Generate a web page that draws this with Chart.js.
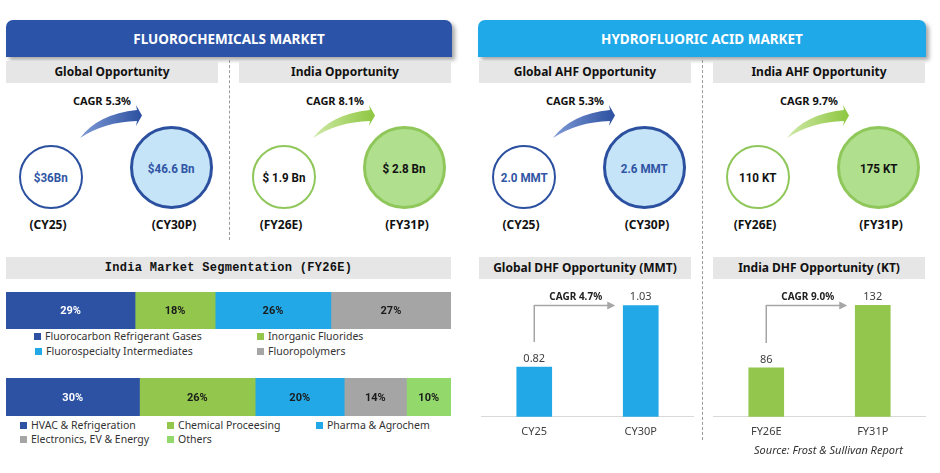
<!DOCTYPE html>
<html>
<head>
<meta charset="utf-8">
<script src="https://cdn.jsdelivr.net/npm/chart.js@4.4.0/dist/chart.umd.min.js"></script>
<style>
  html, body { margin: 0; padding: 0; background: #fff; }
  #page { position: relative; width: 940px; height: 473px; overflow: hidden; font-family: "Noto Sans", sans-serif; color: #111; }
  .abs { position: absolute; }
  .header { top: 20px; height: 37px; border-radius: 7px 7px 0 0; color: #fff; font-weight: 700; font-size: 13.5px;
            line-height: 38px; text-align: center; box-shadow: 3px 3px 4px rgba(0,0,0,0.35); }
  .sub { height: 22px; background: #e6e6e6; font-weight: 700; font-size: 12px; line-height: 22px; text-align: center; }
  .vdash { width: 0; border-left: 1px dashed #9a9a9a; }
  .circle { border-radius: 50%; box-sizing: border-box; display: flex; align-items: center; justify-content: center;
            font-family: "Roboto", sans-serif; font-weight: 700; font-size: 13.5px; }
  .circle span { display: inline-block; transform: scaleX(0.86); white-space: nowrap; }
  .cagr { font-weight: 700; font-size: 11px; transform: translateX(-50%); white-space: nowrap; }
  .period { font-weight: 700; font-size: 12px; transform: translateX(-50%); white-space: nowrap; }
  .seg-title { font-family: "Liberation Mono", monospace; font-weight: 700; font-size: 12px; letter-spacing: 0.3px; }
  .leg { font-size: 10.5px; color: #333; white-space: nowrap; line-height: 13px; }
  .leg i { display: inline-block; width: 7px; height: 7px; margin-right: 4px; vertical-align: 0px; }
  canvas { position: absolute; }
  .source { font-style: italic; font-size: 11px; color: #333; white-space: nowrap; }
</style>
</head>
<body>
<div id="page">
  <div class="abs header" style="left:6px; width:446px; background:#2b53a7;">FLUOROCHEMICALS MARKET</div>
  <div class="abs header" style="left:478px; width:448px; background:#1fa9e8;">HYDROFLUORIC ACID MARKET</div>

  <div class="abs vdash" style="left:229px; top:60px; height:180px;"></div>
  <div class="abs vdash" style="left:702px; top:60px; height:380px;"></div>

  <div class="abs sub seg-title" style="left:6px; top:257px; width:445px;">India Market Segmentation (FY26E)</div>
  <canvas id="segProduct" width="445" height="37" style="left:6px; top:292px;"></canvas>
  <canvas id="segApp" width="445" height="38" style="left:6px; top:378px;"></canvas>

  <div class="abs sub" style="left:479px; top:257px; width:212px;">Global DHF Opportunity (MMT)</div>
  <div class="abs sub" style="left:713px; top:257px; width:212px;">India DHF Opportunity (KT)</div>
  <canvas id="globalDhf" width="213" height="161" style="left:481px; top:285px;"></canvas>
  <canvas id="indiaDhf" width="213" height="161" style="left:713px; top:285px;"></canvas>

  <div class="abs source" style="right:37px; top:442px;">Source: Frost &amp; Sullivan Report</div>
</div>

<script>
// Opportunity panels (circles)
const oppTitles = ['Global Opportunity', 'India Opportunity', 'Global AHF Opportunity', 'India AHF Opportunity'];
const oppCagr = ['CAGR 5.3%', 'CAGR 8.1%', 'CAGR 5.3%', 'CAGR 9.7%'];
const oppStart = ['$36Bn', '$ 1.9 Bn', '2.0 MMT', '110 KT'];
const oppEnd = ['$46.6 Bn', '$ 2.8 Bn', '2.6 MMT', '175 KT'];
const oppStartPeriod = ['(CY25)', '(FY26E)', '(CY25)', '(FY26E)'];
const oppEndPeriod = ['(CY30P)', '(FY31P)', '(CY30P)', '(FY31P)'];

// India market segmentation
const productLabels = ['Fluorocarbon Refrigerant Gases', 'Inorganic Fluorides', 'Fluorospecialty Intermediates', 'Fluoropolymers'];
const productValues = [29, 18, 26, 27];
const appLabels = ['HVAC & Refrigeration', 'Chemical Proceesing', 'Pharma & Agrochem', 'Electronics, EV & Energy', 'Others'];
const appValues = [30, 26, 20, 14, 10];

// DHF bar charts
const globalDhfLabels = ['CY25', 'CY30P'];
const globalDhfValues = [0.82, 1.03];
const globalDhfCagr = 'CAGR 4.7%';
const indiaDhfLabels = ['FY26E', 'FY31P'];
const indiaDhfValues = [86, 132];
const indiaDhfCagr = 'CAGR 9.0%';

const DARK_BLUE = '#2d52a3';
const GREEN = '#92c64c';
const LIGHT_BLUE = '#22a8e6';
const GRAY = '#a5a5a5';
const LIGHT_GREEN = '#93d86b';

const page = document.getElementById('page');

function addEl(html) {
    const wrap = document.createElement('div');
    wrap.innerHTML = html;
    const el = wrap.firstElementChild;
    page.appendChild(el);
    return el;
}

// --- opportunity panels ---
const panelX = [0, 233, 473, 707];
oppTitles.forEach(function(title, i) {
    const x = panelX[i];
    const blue = i % 2 === 0;
    const ring = blue ? '#2c50a0' : '#8fc75a';
    const fill = blue ? '#c6e4f7' : '#b0df8d';
    const txt = blue ? '#2f55a4' : '#111';

    addEl(`<div class="abs sub" style="left:${x + 6}px; top:61px; width:212px;">${title}</div>`);
    addEl(`<div class="abs cagr" style="left:${x + 102}px; top:93px;">${oppCagr[i]}</div>`);

    // swoosh arrow
    const c1 = blue ? '#7f9bd6' : '#cfe9a8';
    const c2 = blue ? '#2c50a0' : '#8dc63f';
    addEl(`<svg class="abs" style="left:${x + 80}px; top:100px;" width="70" height="45" viewBox="0 -38 70 45">
        <defs><linearGradient id="g${i}" x1="0" y1="0" x2="1" y2="0">
          <stop offset="0" stop-color="${c1}"/><stop offset="1" stop-color="${c2}"/></linearGradient></defs>
        <path d="M0,0 Q18,-24 57,-28 L56,-33 L62,-22.5 L56,-12 L57,-17 Q24,-16 0,0 Z" fill="url(#g${i})"/>
      </svg>`);

    addEl(`<div class="abs circle" style="left:${x + 19}px; top:145px; width:64px; height:64px; border:2.5px solid ${ring}; background:#fff; color:${txt};"><span>${oppStart[i]}</span></div>`);
    addEl(`<div class="abs circle" style="left:${x + 130}px; top:126px; width:83px; height:83px; border:3px solid ${ring}; background:${fill}; color:${txt};"><span>${oppEnd[i]}</span></div>`);
    addEl(`<div class="abs period" style="left:${x + 48}px; top:216px;">${oppStartPeriod[i]}</div>`);
    addEl(`<div class="abs period" style="left:${x + 174}px; top:216px;">${oppEndPeriod[i]}</div>`);
});

// --- legends for segmentation ---
const productColors = [DARK_BLUE, GREEN, LIGHT_BLUE, GRAY];
const productLegendPos = [[34, 330], [257, 330], [35, 345], [257, 345]];
productLabels.forEach(function(lbl, i) {
    const p = productLegendPos[i];
    addEl(`<div class="abs leg" style="left:${p[0]}px; top:${p[1]}px;"><i style="background:${productColors[i]}"></i>${lbl}</div>`);
});

const appColors = [DARK_BLUE, GREEN, LIGHT_BLUE, GRAY, LIGHT_GREEN];
const appLegendPos = [[20, 419], [167, 419], [316, 419], [20, 433], [167, 433]];
appLabels.forEach(function(lbl, i) {
    const p = appLegendPos[i];
    addEl(`<div class="abs leg" style="left:${p[0]}px; top:${p[1]}px;"><i style="background:${appColors[i]}"></i>${lbl}</div>`);
});

// --- stacked segmentation bars ---
const segLabelPlugin = {
    id: 'segLabels',
    afterDatasetsDraw(chart) {
        const ctx = chart.ctx;
        ctx.save();
        ctx.font = 'bold 11px "Roboto", sans-serif';
        ctx.textAlign = 'center';
        ctx.textBaseline = 'middle';
        chart.data.datasets.forEach(function(ds, i) {
            const bar = chart.getDatasetMeta(i).data[0];
            ctx.fillStyle = ds.labelColor;
            ctx.fillText(ds.data[0] + '%', (bar.x + bar.base) / 2, bar.y + 1);
        });
        ctx.restore();
    }
};

function makeSegChart(id, values, colors, labels) {
    return new Chart(document.getElementById(id), {
        type: 'bar',
        data: {
            labels: [''],
            datasets: values.map(function(v, i) {
                return {
                    label: labels[i],
                    data: [v],
                    backgroundColor: colors[i],
                    labelColor: i === 0 ? '#ffffff' : '#1b1b1b',
                    barPercentage: 1,
                    categoryPercentage: 1
                };
            })
        },
        options: {
            indexAxis: 'y',
            responsive: false,
            animation: false,
            layout: { padding: 0 },
            plugins: { legend: { display: false }, tooltip: { enabled: false } },
            scales: {
                x: { stacked: true, display: false, min: 0, max: 100 },
                y: { stacked: true, display: false }
            }
        },
        plugins: [segLabelPlugin]
    });
}

makeSegChart('segProduct', productValues, productColors, productLabels);
makeSegChart('segApp', appValues, appColors, appLabels);

// --- DHF bar charts ---
const barExtrasPlugin = {
    id: 'barExtras',
    afterDatasetsDraw(chart) {
        const ctx = chart.ctx;
        const meta = chart.getDatasetMeta(0);
        const b0 = meta.data[0];
        const b1 = meta.data[1];
        const vals = chart.data.datasets[0].data;
        ctx.save();
        // value labels
        ctx.font = '11px "Noto Sans", sans-serif';
        ctx.fillStyle = '#404040';
        ctx.textAlign = 'center';
        ctx.textBaseline = 'bottom';
        meta.data.forEach(function(bar, i) {
            ctx.fillText(String(vals[i]), bar.x, bar.y - 3);
        });
        // CAGR connector arrow
        const yTop = b1.y;
        const xEnd = b1.x - b1.width / 2 - 10;
        ctx.strokeStyle = '#a6a6a6';
        ctx.lineWidth = 1.5;
        ctx.beginPath();
        ctx.moveTo(b0.x, b0.y - 25);
        ctx.lineTo(b0.x, yTop);
        ctx.lineTo(xEnd - 4, yTop);
        ctx.stroke();
        ctx.fillStyle = '#a6a6a6';
        ctx.beginPath();
        ctx.moveTo(xEnd + 2, yTop);
        ctx.lineTo(xEnd - 6, yTop - 4);
        ctx.lineTo(xEnd - 6, yTop + 4);
        ctx.closePath();
        ctx.fill();
        // CAGR text
        ctx.font = 'bold 10px "Noto Sans", sans-serif';
        ctx.fillStyle = '#222';
        ctx.textBaseline = 'bottom';
        ctx.fillText(chart.options.plugins.barExtras.cagr, (b0.x + xEnd) / 2 + 2, yTop - 3);
        ctx.restore();
    }
};

function makeDhfChart(id, labels, values, color, yMin, yMax, cagr) {
    return new Chart(document.getElementById(id), {
        type: 'bar',
        data: {
            labels: labels,
            datasets: [{
                data: values,
                backgroundColor: color,
                barThickness: 35
            }]
        },
        options: {
            responsive: false,
            animation: false,
            layout: { padding: 0 },
            plugins: {
                legend: { display: false },
                tooltip: { enabled: false },
                barExtras: { cagr: cagr }
            },
            scales: {
                x: {
                    grid: { display: false, drawTicks: false },
                    border: { display: true, color: '#d9d9d9', width: 1 },
                    ticks: { color: '#404040', font: { size: 11, family: 'Noto Sans' }, padding: 8 }
                },
                y: { display: false, min: yMin, max: yMax }
            }
        },
        plugins: [barExtrasPlugin]
    });
}

makeDhfChart('globalDhf', globalDhfLabels, globalDhfValues, LIGHT_BLUE, 0.65, 1.10, globalDhfCagr);
makeDhfChart('indiaDhf', indiaDhfLabels, indiaDhfValues, '#92c64c', 50, 147, indiaDhfCagr);
</script>
</body>
</html>
